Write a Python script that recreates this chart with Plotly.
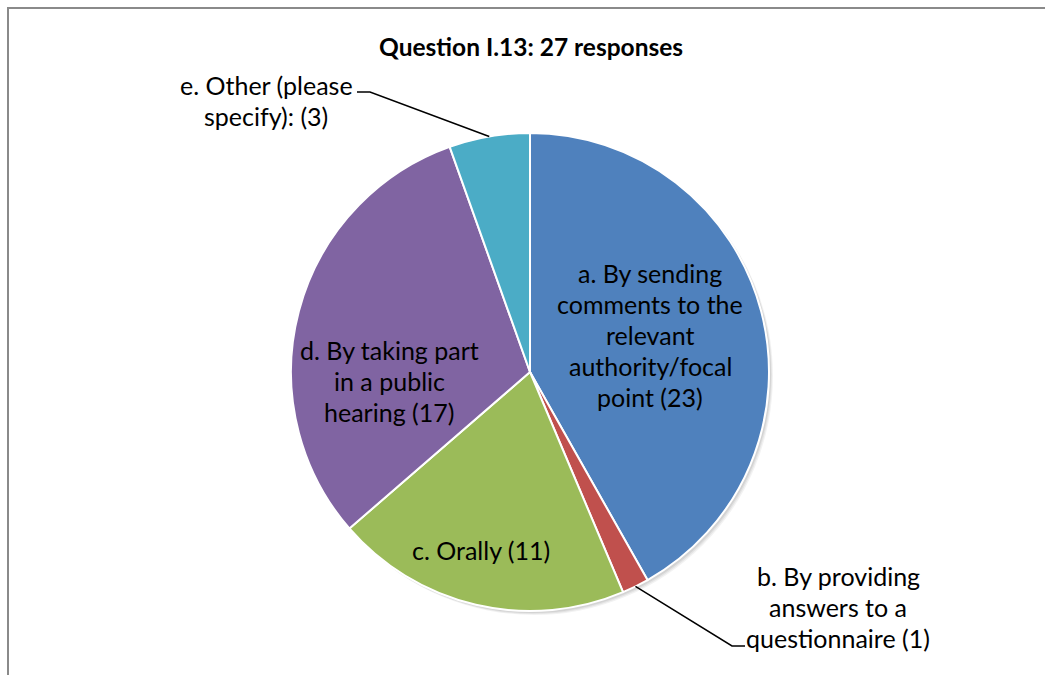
import math
import plotly.graph_objects as go

W, H = 1045, 675
categories = ["a", "b", "c", "d", "e"]
label_lines = [
    ["a. By sending", "comments to the", "relevant", "authority/focal", "point (23)"],
    ["b. By providing", "answers to a", "questionnaire (1)"],
    ["c. Orally (11)"],
    ["d. By taking part", "in a public", "hearing (17)"],
    ["e. Other (please", "specify): (3)"],
]
values = [23, 1, 11, 17, 3]
colors = ["#4F81BD", "#C0504D", "#9BBB59", "#8064A2", "#4BACC6"]
title = "Question I.13: 27 responses"

CX, CY, R = 530, 372, 239
FONT = "Lato, Carlito, Calibri, sans-serif"

def px(x):
    return x / W

def py(y):
    return 1 - y / H

fig = go.Figure()
# soft shadow
for off, a in [(4, 0.05), (3, 0.06), (2, 0.07)]:
    fig.add_trace(go.Pie(values=[1], marker=dict(colors=[f"rgba(0,0,0,{a})"], line=dict(width=0)),
                         textinfo="none", hoverinfo="skip", showlegend=False,
                         domain=dict(x=[px(CX - R + off), px(CX + R + off)],
                                     y=[py(CY + R + off), py(CY - R + off)])))
fig.add_trace(go.Pie(
    labels=categories, values=values, sort=False, direction="clockwise", rotation=0,
    marker=dict(colors=colors, line=dict(color="white", width=2)),
    textinfo="none", showlegend=False,
    domain=dict(x=[px(CX - R), px(CX + R)], y=[py(CY + R), py(CY - R)]),
))

# label positions (center x, first line y), line spacing
label_pos = [(650, 273), (838, 576), (481, 550), (389, 350), (266, 85)]
LS = 31
annotations = []
for lines, (lx, ly) in zip(label_lines, label_pos):
    for i, t in enumerate(lines):
        annotations.append(dict(x=px(lx), y=py(ly + i * LS), xref="paper", yref="paper",
                                text=t, showarrow=False, xanchor="center", yanchor="middle",
                                font=dict(family=FONT, size=25, color="#000000")))
annotations.append(dict(x=px(531), y=py(46), xref="paper", yref="paper", text="<b>" + title + "</b>",
                        showarrow=False, xanchor="center", yanchor="middle",
                        font=dict(family=FONT, size=24.5, color="#000000")))

# leader lines from slice mid-angles
total = sum(values)
def edge_point(idx):
    start = sum(values[:idx])
    ang = math.radians((start + values[idx] / 2) / total * 360)
    return CX + R * math.sin(ang), CY - R * math.cos(ang)

shapes = []
bx, by = edge_point(1)
shapes.append(dict(type="path", xref="paper", yref="paper",
                   path=f"M {px(bx)},{py(by)} L {px(732)},{py(646)} L {px(745)},{py(646)}",
                   line=dict(color="black", width=1.5)))
ex, ey = edge_point(4)
shapes.append(dict(type="path", xref="paper", yref="paper",
                   path=f"M {px(ex)},{py(ey)} L {px(370)},{py(92)} L {px(357)},{py(92)}",
                   line=dict(color="black", width=1.5)))
# chart frame
shapes.append(dict(type="path", xref="paper", yref="paper",
                   path=f"M {px(8)},{py(700)} L {px(8)},{py(8)} L {px(1100)},{py(8)}",
                   line=dict(color="#8a8a8a", width=2)))

fig.update_layout(width=W, height=H, margin=dict(l=0, r=0, t=0, b=0),
                  paper_bgcolor="white", plot_bgcolor="white",
                  annotations=annotations, shapes=shapes)
fig.write_html("out.html", config={"displayModeBar": False},
               post_script="document.body.style.margin='0';document.body.style.overflow='hidden';")
